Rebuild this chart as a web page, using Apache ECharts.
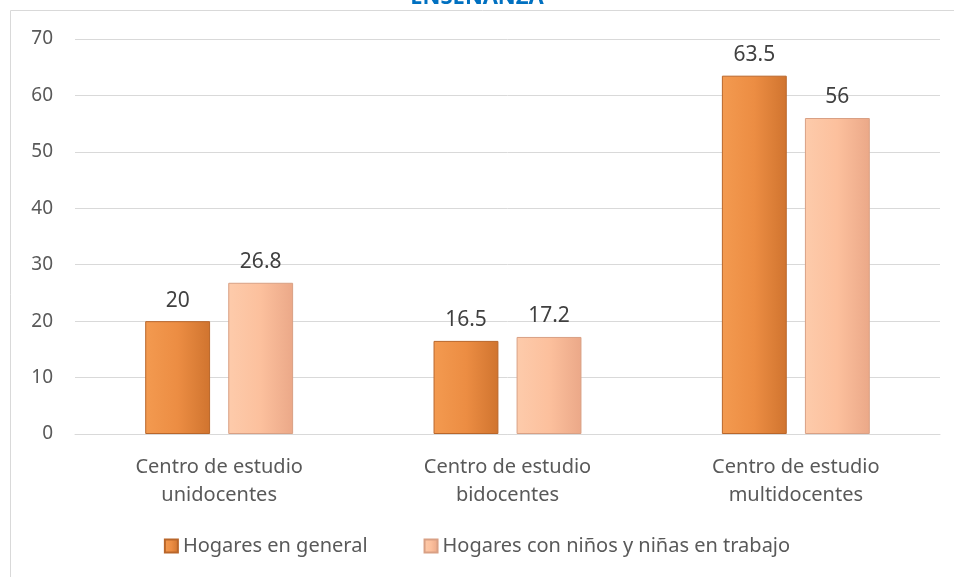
<!DOCTYPE html>
<html>
<head>
<meta charset="utf-8">
<script src="https://cdn.jsdelivr.net/npm/echarts@6/dist/echarts.min.js"></script>
<style>
  html, body { margin: 0; padding: 0; background: #fff; }
  #chart { width: 954px; height: 577px; }
</style>
</head>
<body>
<div id="chart"></div>
<script>
  // datos del gráfico
  var categorias = ['Centro de estudio\nunidocentes', 'Centro de estudio\nbidocentes', 'Centro de estudio\nmultidocentes'];
  var hogaresGeneral = [20, 16.5, 63.5];
  var hogaresNinos = [26.8, 17.2, 56];
  var nombresSeries = ['Hogares en general', 'Hogares con niños y niñas en trabajo'];

  var fuente = 'Noto Sans';

  function bisel(a, b, c) {
    return {
      type: 'linear', x: 0, y: 0, x2: 1, y2: 0,
      colorStops: [
        { offset: 0, color: a },
        { offset: 0.5, color: b },
        { offset: 1, color: c }
      ]
    };
  }

  var myChart = echarts.init(document.getElementById('chart'));
  myChart.setOption({
    animation: false,
    textStyle: { fontFamily: fuente },
    graphic: [
      {
        type: 'rect',
        shape: { x: 10.5, y: 10.5, width: 960, height: 600 },
        style: { fill: 'none', stroke: '#d9d9d9', lineWidth: 1 },
        silent: true
      },
      {
        type: 'text',
        left: 'center',
        top: -13,
        style: { text: 'ENSEÑANZA', fill: '#0070C0', font: 'bold 22px ' + fuente }
      }
    ],
    grid: { left: 75, right: 14, top: 39, bottom: 143 },
    legend: {
      bottom: 16,
      left: 'center',
      itemWidth: 13,
      itemHeight: 13,
      itemGap: 56,
      icon: 'rect',
      textStyle: { fontSize: 20, color: '#595959', fontFamily: fuente },
      data: nombresSeries
    },
    xAxis: {
      type: 'category',
      data: categorias,
      axisLine: { lineStyle: { color: '#d9d9d9' } },
      axisTick: { show: false },
      axisLabel: { fontSize: 20, color: '#595959', lineHeight: 28, margin: 19, interval: 0 }
    },
    yAxis: {
      type: 'value',
      min: 0,
      max: 70,
      interval: 10,
      axisLabel: { fontSize: 19, color: '#595959', margin: 22 },
      splitLine: { lineStyle: { color: '#d9d9d9' } }
    },
    series: [
      {
        name: nombresSeries[0],
        type: 'bar',
        data: hogaresGeneral,
        barWidth: '22.5%',
        barGap: '28%',
        itemStyle: {
          color: bisel('#f39a50', '#ec8d43', '#d0742f'),
          borderColor: '#b9662a',
          borderWidth: 1
        },
        label: { show: true, position: 'top', distance: 10, fontSize: 21, color: '#404040' }
      },
      {
        name: nombresSeries[1],
        type: 'bar',
        data: hogaresNinos,
        barWidth: '22.5%',
        itemStyle: {
          color: bisel('#fdcbab', '#fcc09d', '#eba888'),
          borderColor: '#d9a084',
          borderWidth: 1
        },
        label: { show: true, position: 'top', distance: 10, fontSize: 21, color: '#404040' }
      }
    ]
  });
</script>
</body>
</html>
